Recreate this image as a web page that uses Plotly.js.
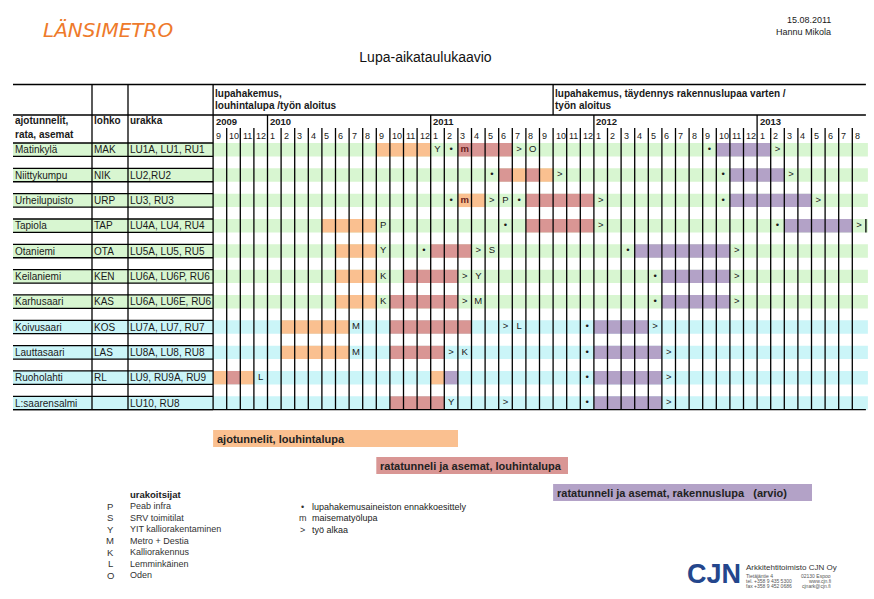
<!DOCTYPE html>
<html><head><meta charset="utf-8">
<script src="https://cdn.plot.ly/plotly-3.0.1.min.js"></script>
<style>html,body{margin:0;padding:0;background:#fff}#chart{width:874px;height:599px}</style>
</head><body><div id="chart"></div>
<script>
// ================= DATA =================
const stations = ['Matinkylä','Niittykumpu','Urheilupuisto','Tapiola','Otaniemi','Keilaniemi','Karhusaari','Koivusaari','Lauttasaari','Ruoholahti','L:saarensalmi'];
const lohko = ['MAK','NIK','URP','TAP','OTA','KEN','KAS','KOS','LAS','RL',''];
const urakka = ['LU1A, LU1, RU1','LU2,RU2','LU3, RU3','LU4A, LU4, RU4','LU5A, LU5, RU5','LU6A, LU6P, RU6','LU6A, LU6E, RU6','LU7A, LU7, RU7','LU8A, LU8, RU8','LU9, RU9A, RU9','LU10, RU8'];
const espooStations = 7; // first rows (green), rest Helsinki (cyan)

const timelineStart = '2009-09';
const timelineEnd = '2013-08';
const years = ['2009','2010','2011','2012','2013'];

// ajotunnelit, louhintalupa (orange)
const ajoStation = ['Matinkylä','Niittykumpu','Niittykumpu','Urheilupuisto','Tapiola','Otaniemi','Keilaniemi','Karhusaari','Koivusaari','Lauttasaari','Ruoholahti','Ruoholahti','Ruoholahti'];
const ajoStart   = ['2010-09','2011-07','2011-09','2011-03','2010-05','2010-06','2010-06','2010-06','2010-02','2010-02','2009-09','2009-11','2011-01'];
const ajoEnd     = ['2010-12','2011-07','2011-09','2011-04','2010-08','2010-08','2010-08','2010-08','2010-06','2010-06','2009-09','2009-11','2011-01'];

// ratatunneli ja asemat, louhintalupa (red)
const rataStation = ['Matinkylä','Niittykumpu','Niittykumpu','Urheilupuisto','Tapiola','Otaniemi','Keilaniemi','Karhusaari','Koivusaari','Lauttasaari','Ruoholahti','L:saarensalmi'];
const rataStart   = ['2011-03','2011-06','2011-08','2011-08','2011-08','2011-01','2010-11','2010-10','2010-10','2010-10','2009-10','2010-10'];
const rataEnd     = ['2011-06','2011-06','2011-08','2011-12','2011-12','2011-03','2011-02','2011-02','2011-03','2011-01','2009-10','2011-01'];

// ratatunneli ja asemat, rakennuslupa (arvio) (purple)
const rakStation = ['Matinkylä','Niittykumpu','Urheilupuisto','Tapiola','Otaniemi','Keilaniemi','Karhusaari','Koivusaari','Lauttasaari','Ruoholahti','Ruoholahti','L:saarensalmi'];
const rakStart   = ['2012-10','2012-11','2012-11','2013-03','2012-04','2012-06','2012-06','2012-01','2012-01','2011-02','2012-01','2012-01'];
const rakEnd     = ['2013-01','2013-02','2013-04','2013-07','2012-10','2012-10','2012-10','2012-04','2012-05','2011-02','2012-05','2012-05'];

// symbols in the grid
const markStation = ['Matinkylä','Matinkylä','Matinkylä','Matinkylä','Matinkylä','Matinkylä','Matinkylä',
  'Niittykumpu','Niittykumpu','Niittykumpu','Niittykumpu',
  'Urheilupuisto','Urheilupuisto','Urheilupuisto','Urheilupuisto','Urheilupuisto','Urheilupuisto','Urheilupuisto','Urheilupuisto',
  'Tapiola','Tapiola','Tapiola','Tapiola','Tapiola',
  'Otaniemi','Otaniemi','Otaniemi','Otaniemi','Otaniemi','Otaniemi',
  'Keilaniemi','Keilaniemi','Keilaniemi','Keilaniemi','Keilaniemi',
  'Karhusaari','Karhusaari','Karhusaari','Karhusaari','Karhusaari',
  'Koivusaari','Koivusaari','Koivusaari','Koivusaari','Koivusaari',
  'Lauttasaari','Lauttasaari','Lauttasaari','Lauttasaari','Lauttasaari',
  'Ruoholahti','Ruoholahti','Ruoholahti',
  'L:saarensalmi','L:saarensalmi','L:saarensalmi','L:saarensalmi'];
const markMonth = ['2011-01','2011-02','2011-03','2011-07','2011-08','2012-09','2013-02',
  '2011-05','2011-10','2012-10','2013-03',
  '2011-02','2011-03','2011-05','2011-06','2011-07','2012-01','2012-10','2013-05',
  '2010-09','2011-06','2012-01','2013-02','2013-08',
  '2010-09','2010-12','2011-04','2011-05','2012-03','2012-11',
  '2010-09','2011-03','2011-04','2012-05','2012-11',
  '2010-09','2011-03','2011-04','2012-05','2012-11',
  '2010-07','2011-06','2011-07','2011-12','2012-05',
  '2010-07','2011-02','2011-03','2011-12','2012-06',
  '2009-12','2011-12','2012-06',
  '2011-02','2011-06','2011-12','2012-06'];
const markText = ['Y','•','m','>','O','•','>',
  '•','>','•','>',
  '•','m','>','P','•','>','•','>',
  'P','•','>','•','>',
  'Y','•','>','S','•','>',
  'K','>','Y','•','>',
  'K','>','M','•','>',
  'M','>','L','•','>',
  'M','>','K','•','>',
  'L','•','>',
  'Y','>','•','>'];

const contractorCode = ['P','S','Y','M','K','L','O'];
const contractorName = ['Peab infra','SRV toimitilat','YIT kalliorakentaminen','Metro + Destia','Kalliorakennus','Lemminkäinen','Oden'];
const symbolCode = ['•','m','>'];
const symbolName = ['lupahakemusaineiston ennakkoesittely','maisematyölupa','työ alkaa'];

const phaseNames = ['ajotunnelit, louhintalupa','ratatunneli ja asemat, louhintalupa','ratatunneli ja asemat, rakennuslupa\u00a0\u00a0\u00a0(arvio)'];

// ================= GEOMETRY / STYLE =================
const W = 874, H = 599;
const X0 = 213.1, CW = 13.6;     // grid left edge px, month width px
const Y0 = 149.7, RH = 25.33;    // first row centre px, row pitch px
const BAND = 0.53;               // band height (rows)
const F = 'Liberation Sans, Arial, sans-serif';
const C_ORANGE = '#fac090', C_RED = '#d99694', C_PURPLE = '#b3a2c7';
const C_GREEN = '#d8f6d1', C_CYAN = '#cbf5f8';
const gx = px => (px - X0) / CW;
const gy = py => (py - Y0) / RH;
const mi = s => { const [y, m] = s.split('-').map(Number); const [y0, m0] = timelineStart.split('-').map(Number); return (y - y0) * 12 + (m - m0); };
const nMonths = mi(timelineEnd) + 1;
const pxM = m => X0 + m * CW;
const pyR = r => Y0 + r * RH;

function barTrace(st, s, e, color) {
  return {
    type: 'bar', orientation: 'h',
    y: st.map(n => stations.indexOf(n)),
    base: s.map(mi),
    x: e.map((v, i) => mi(v) - mi(s[i]) + 1),
    width: BAND,
    marker: { color: color, line: { width: 0 } },
    hoverinfo: 'skip', showlegend: false
  };
}

const traces = [
  barTrace(ajoStation, ajoStart, ajoEnd, C_ORANGE),
  barTrace(rataStation, rataStart, rataEnd, C_RED),
  barTrace(rakStation, rakStart, rakEnd, C_PURPLE),
  {
    type: 'scatter', mode: 'text',
    x: markMonth.map(m => mi(m) + 0.5),
    y: markStation.map(n => stations.indexOf(n)),
    text: markText.map(t => t === 'm' ? '<b>m</b>' : t),
    textposition: 'middle center',
    textfont: { family: F, size: 9.5, color: markText.map(t => t === 'm' ? '#6a1c1c' : '#1a1a1a') },
    cliponaxis: false, hoverinfo: 'skip', showlegend: false
  }
];

// ---------- shapes ----------
const shapes = [];
const L = (x0, y0, x1, y1, w) => shapes.push({ type: 'line', xref: 'x', yref: 'y', x0: gx(x0), y0: gy(y0), x1: gx(x1), y1: gy(y1), line: { color: '#000', width: w || 1.3 }, layer: 'above' });
const rectPx = (x0, y0, x1, y1, color, layer) => shapes.push({ type: 'rect', xref: 'x', yref: 'y', x0: gx(x0), y0: gy(y0), x1: gx(x1), y1: gy(y1), fillcolor: color, line: { width: 0 }, layer: layer || 'below' });

const gridRight = pxM(nMonths);
const bandTop = r => pyR(r) - BAND / 2 * RH;
const bandBot = r => pyR(r) + BAND / 2 * RH;
const tableBottom = bandBot(stations.length - 1);

stations.forEach((s, r) => {
  rectPx(13, bandTop(r), gridRight + 2, bandBot(r), r < espooStations ? C_GREEN : C_CYAN);
  L(13, bandTop(r), X0, bandTop(r));
  L(13, bandBot(r), X0, bandBot(r));
});
// header lines
L(13, 84.5, gridRight, 84.5);
L(13, 115, gridRight, 115);
L(13, tableBottom, gridRight, tableBottom);
L(92, 84.5, 92, tableBottom);
L(128, 84.5, 128, tableBottom);
L(X0, 84.5, X0, tableBottom);
for (let m = 1; m < nMonths; m++) {
  const x = pxM(m);
  const monthOfYear = ((m + 8) % 12) + 1;
  L(x, monthOfYear === 1 ? 115 : 128, x, tableBottom);
}
L(pxM(mi('2011-10')), 84.5, pxM(mi('2011-10')), 115);
// right border fragment on Tapiola row
const tr = stations.indexOf('Tapiola');
L(gridRight, bandTop(tr), gridRight, bandBot(tr));

// legend boxes (phase colours)
rectPx(pxM(mi('2009-09')), 430, 458, 447, C_ORANGE);
rectPx(pxM(mi('2010-09')), 457, 568, 474, C_RED);
rectPx(pxM(mi('2011-10')), 484, 812, 501, C_PURPLE);

// ---------- annotations ----------
const ann = [];
function T(px, py, text, size, o) {
  o = o || {};
  ann.push({
    xref: 'paper', yref: 'paper', x: px / W, y: 1 - py / H, text: text, showarrow: false,
    xanchor: o.anchor || 'left', yanchor: 'middle', borderpad: 0,
    font: { family: o.family || F, size: size, color: o.color || '#1a1a1a' }
  });
}
// logos and header info
T(108, 30, '<i>LÄNSIMETRO</i>', 20, { anchor: 'center', color: '#ee7a2b', family: 'DejaVu Sans, sans-serif' });
T(832, 20, '15.08.2011', 9, { anchor: 'right' });
T(832, 32, 'Hannu Mikola', 9, { anchor: 'right' });

// table header
T(214, 93, '<b>lupahakemus,</b>', 10);
T(214, 106, '<b>louhintalupa /työn aloitus</b>', 10);
T(554, 93, '<b>lupahakemus, täydennys rakennuslupaa varten /</b>', 10);
T(554, 106, '<b>työn aloitus</b>', 10);
T(14, 121, '<b>ajotunnelit,</b>', 10);
T(14, 134, '<b>rata, asemat</b>', 10);
T(93, 121, '<b>lohko</b>', 10);
T(129, 121, '<b>urakka</b>', 10);
years.forEach(y => T(pxM(mi(y + '-01') < 0 ? 0 : mi(y + '-01')) + 1.5, 121.5, '<b>' + y + '</b>', 9.5));
for (let m = 0; m < nMonths; m++) {
  T(pxM(m) + 1.5, 136, String(((m + 8) % 12) + 1), 9);
}
stations.forEach((s, r) => {
  T(14, pyR(r), s, 10);
  T(93, pyR(r), lohko[r], 10);
  T(129, pyR(r), urakka[r], 10);
});

// phase legend texts
T(pxM(0) + 3, 438.5, '<b>' + phaseNames[0] + '</b>', 11, { color: '#222' });
T(pxM(12) + 3, 465.5, '<b>' + phaseNames[1] + '</b>', 11, { color: '#222' });
T(pxM(25) + 3, 492.5, '<b>' + phaseNames[2] + '</b>', 11, { color: '#222' });

// contractors
T(129, 494, '<b>urakoitsijat</b>', 9.5, { color: '#222' });
contractorCode.forEach((c, i) => {
  T(110, 506 + i * 11.5, c, 9.5, { anchor: 'center', color: '#333' });
  T(129, 506 + i * 11.5, contractorName[i], 9, { color: '#333' });
});
symbolCode.forEach((c, i) => {
  T(302.5, 507 + i * 11.3, c, 9, { anchor: 'center', color: '#333' });
  T(311, 507 + i * 11.3, symbolName[i], 9, { color: '#222' });
});

// CJN footer
T(714, 574, '<b>CJN</b>', 27, { anchor: 'center', color: '#24468c' });
T(745, 567, 'Arkkitehtitoimisto CJN Oy', 8, { color: '#333' });
T(745, 576, 'Tietäjäntie 4', 5, { color: '#555' });
T(745, 581, 'tel. +358 9 435 5300', 5, { color: '#555' });
T(745, 586, 'fax +358 9 452 0686', 5, { color: '#555' });
T(832, 576, '02130 Espoo', 5, { anchor: 'right', color: '#555' });
T(832, 581, 'www.cjn.fi', 5, { anchor: 'right', color: '#555' });
T(832, 586, 'cjnark@cjn.fi', 5, { anchor: 'right', color: '#555' });

const layout = {
  width: W, height: H,
  margin: { l: 0, r: 0, t: 0, b: 0, pad: 0 },
  paper_bgcolor: '#fff', plot_bgcolor: 'rgba(0,0,0,0)',
  title: { text: 'Lupa-aikataulukaavio', x: 425.5 / W, y: 1 - 57 / H, xanchor: 'center', yanchor: 'middle', xref: 'paper', yref: 'paper', font: { family: F, size: 14, color: '#111' } },
  barmode: 'overlay',
  showlegend: false,
  xaxis: { range: [gx(0), gx(W)], visible: false, fixedrange: true },
  yaxis: { range: [gy(H), gy(0)], visible: false, fixedrange: true },
  shapes: shapes,
  annotations: ann
};
Plotly.newPlot('chart', traces, layout, { staticPlot: true, displayModeBar: false });
</script></body></html>
